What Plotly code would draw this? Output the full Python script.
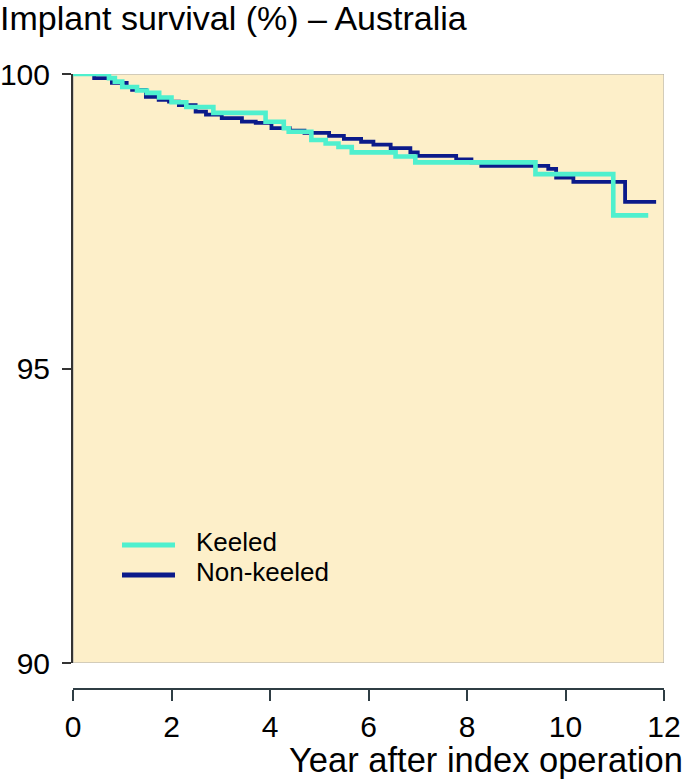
import plotly.graph_objects as go

# ---- data ----
keeled_years = [0, 0.73, 0.85, 1.0, 1.3, 1.5, 1.75, 2.0, 2.3, 2.85, 3.91, 4.28, 4.38,
                4.84, 5.13, 5.39, 5.66, 6.55, 6.95, 9.39, 10.97, 11.68]
keeled_surv = [100, 99.93, 99.87, 99.78, 99.72, 99.68, 99.6, 99.52, 99.44, 99.34, 99.19,
               99.08, 99.02, 98.88, 98.82, 98.76, 98.67, 98.6, 98.5, 98.3, 97.6, 97.6]

nonkeeled_years = [0, 0.43, 0.79, 1.09, 1.2, 1.48, 1.74, 1.95, 2.15, 2.49, 2.7, 3.02,
                   3.43, 3.71, 4.03, 4.4, 4.7, 5.2, 5.5, 5.85, 6.1, 6.45, 6.85, 7.0,
                   7.78, 8.09, 8.29, 9.65, 9.81, 10.16, 11.21, 11.84]
nonkeeled_surv = [100, 99.93, 99.85, 99.78, 99.73, 99.61, 99.56, 99.53, 99.47, 99.36,
                  99.31, 99.25, 99.19, 99.17, 99.08, 99.04, 99.0, 98.95, 98.9, 98.85,
                  98.8, 98.74, 98.67, 98.61, 98.55, 98.5, 98.44, 98.39, 98.24, 98.17,
                  97.83, 97.83]

series_names = ["Keeled", "Non-keeled"]
x_ticks = [0, 2, 4, 6, 8, 10, 12]
y_ticks = [90, 95, 100]

FONT = "Liberation Sans, Arial, Helvetica, sans-serif"
CYAN = "#4FF0CE"
NAVY = "#0B1A8A"
BG = "#FDEFC9"

W, H = 695, 784
ML, MR, MT, MB = 73, 31, 74, 95
PW, PH = W - ML - MR, H - MT - MB


def px_x(px):
    return (px - ML) / PW


def px_y(py):
    return (H - MB - py) / PH


fig = go.Figure()
fig.add_trace(go.Scatter(x=nonkeeled_years, y=nonkeeled_surv, mode="lines",
                         line=dict(color=NAVY, width=3.8, shape="hv"),
                         name=series_names[1], showlegend=False))
fig.add_trace(go.Scatter(x=keeled_years, y=keeled_surv, mode="lines",
                         line=dict(color=CYAN, width=4.6, shape="hv"),
                         name=series_names[0], showlegend=False))

# panel background
fig.add_shape(type="rect", xref="x", yref="y", x0=0, x1=12, y0=90, y1=100,
              fillcolor=BG, line=dict(color="#A8A8A8", width=1), layer="below")

# legend (swatches + labels)
for name, color, yc in [(series_names[0], CYAN, 545), (series_names[1], NAVY, 575)]:
    fig.add_shape(type="line", xref="paper", yref="paper",
                  x0=px_x(122), x1=px_x(175), y0=px_y(yc), y1=px_y(yc),
                  line=dict(color=color, width=5))
    fig.add_annotation(text=name, xref="paper", yref="paper", x=px_x(194), y=px_y(yc - 3),
                       xanchor="left", yanchor="middle", showarrow=False,
                       font=dict(size=26, family=FONT, color="black"))

y_lo = px_y(663)
fig.update_layout(
    template="none",
    width=W, height=H,
    margin=dict(l=ML, r=MR, t=MT, b=MB, autoexpand=False),
    paper_bgcolor="white", plot_bgcolor="rgba(0,0,0,0)",
    font=dict(family=FONT, color="black"),
    title=dict(text="Implant survival (%) – Australia", xref="container", yref="container",
               x=0.0, xanchor="left", y=1 - 18 / H, yanchor="middle",
               font=dict(size=34, family=FONT, color="black")),
    showlegend=False,
    xaxis=dict(range=[0, 12], tickvals=x_ticks, ticks="outside", ticklen=11,
               tickwidth=2, tickcolor="#2F3D44", showline=True, linecolor="#2F3D44",
               linewidth=2, showgrid=False, zeroline=False, automargin=False,
               tickfont=dict(size=30, family=FONT, color="black"),
               anchor="free", position=0),
    yaxis=dict(range=[90, 100], tickvals=y_ticks, domain=[y_lo, 1], ticks="outside",
               ticklen=9, tickwidth=2, tickcolor="#333333", showline=True,
               linecolor="#333333", linewidth=2, showgrid=False, zeroline=False,
               ticklabelstandoff=6, automargin=False,
               tickfont=dict(size=30, family=FONT, color="black")),
)

fig.add_annotation(text="Year after index operation", xref="paper", yref="paper",
                   x=1, xshift=21, xanchor="right", y=0, yshift=-71, yanchor="middle",
                   showarrow=False, font=dict(size=34.5, family=FONT, color="black"))

fig.write_html("out.html", config={"displayModeBar": False},
               post_script="document.body.style.margin='0';")
